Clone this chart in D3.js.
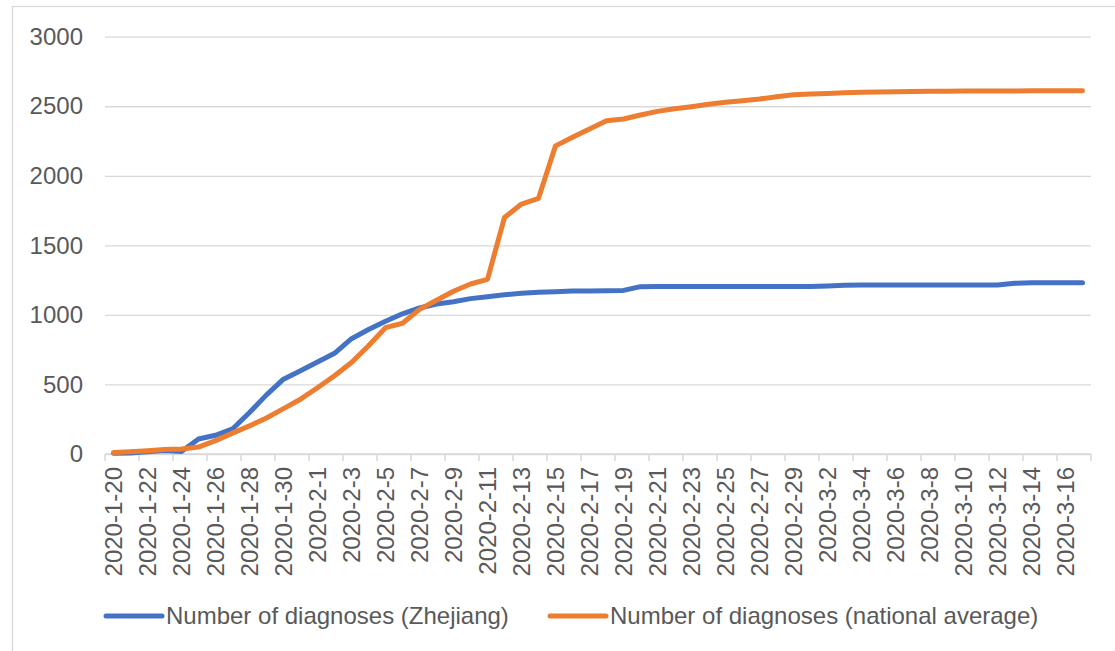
<!DOCTYPE html>
<html>
<head>
<meta charset="utf-8">
<script src="https://cdn.jsdelivr.net/npm/d3@7"></script>
<style>
body{margin:0;background:#fff;}
text{font-family:"Liberation Sans",Arial,sans-serif;fill:#595959;}
</style>
</head>
<body>
<div id="chart"></div>
<script>
(function(){

const dates = [
"2020-1-20","2020-1-21","2020-1-22","2020-1-23","2020-1-24","2020-1-25","2020-1-26","2020-1-27","2020-1-28","2020-1-29","2020-1-30","2020-1-31",
"2020-2-1","2020-2-2","2020-2-3","2020-2-4","2020-2-5","2020-2-6","2020-2-7","2020-2-8","2020-2-9","2020-2-10","2020-2-11","2020-2-12","2020-2-13","2020-2-14",
"2020-2-15","2020-2-16","2020-2-17","2020-2-18","2020-2-19","2020-2-20","2020-2-21","2020-2-22","2020-2-23","2020-2-24","2020-2-25","2020-2-26","2020-2-27",
"2020-2-28","2020-2-29","2020-3-1","2020-3-2","2020-3-3","2020-3-4","2020-3-5","2020-3-6","2020-3-7","2020-3-8","2020-3-9","2020-3-10","2020-3-11",
"2020-3-12","2020-3-13","2020-3-14","2020-3-15","2020-3-16","2020-3-17"
];

const zhejiang = [
5,8,17,25,18,108,135,180,298,425,538,599,
661,724,829,895,954,1008,1050,1078,1095,1117,1131,1145,1155,
1162,1167,1171,1172,1174,1176,1203,1205,1205,1205,1205,1205,1205,
1205,1205,1205,1205,1208,1213,1215,1215,1215,1215,1215,1215,1215,1215,
1215,1227,1231,1231,1232,1232
];

const national = [
10,16,24,32,36,50,96,150,202,259,326,394,
476,562,658,778,908,940,1040,1105,1170,1222,1256,1700,1797,
1838,2215,2277,2336,2396,2408,2437,2463,2482,2497,2514,2528,2540,
2552,2569,2582,2588,2592,2597,2600,2602,2604,2606,2607,2608,2609,2609,
2610,2610,2611,2611,2611,2612
];

const yTicks = [0,500,1000,1500,2000,2500,3000];

const seriesNames = ["Number of diagnoses (Zhejiang)","Number of diagnoses (national average)"];
const seriesColors = ["#4472c4","#ed7d31"];

const width = 1115;
const height = 651;
const left = 105, right = 1091, top = 36.7, bottom = 454;

const svg = d3.select("#chart")
.append("svg")
.attr("width",width)
.attr("height",height);

// chart border (only left/top fall inside the picture)
svg.append("rect")
.attr("x",12.5)
.attr("y",6.5)
.attr("width",1120)
.attr("height",660)
.attr("fill","none")
.attr("stroke","#d9d9d9")
.attr("stroke-width",1.3);

const x = d3.scaleBand()
.domain(dates)
.range([left,right]);

const y = d3.scaleLinear()
.domain([0,3000])
.range([bottom,top]);

// y axis + gridlines
const yAxis = svg.append("g")
.attr("transform",`translate(${left},0)`)
.call(d3.axisLeft(y).tickValues(yTicks).tickFormat(d3.format("d")).tickSize(-(right-left)).tickPadding(22));

yAxis.select(".domain").remove();
yAxis.selectAll("line")
.attr("stroke","#d9d9d9")
.attr("stroke-width",1.3);
yAxis.selectAll("text")
.attr("font-size","24px")
.attr("fill","#595959");

// x axis labels
const shown = dates.filter((d,i)=> i%2===0);

const xAxis = svg.append("g")
.attr("transform",`translate(0,${bottom})`)
.call(d3.axisBottom(x).tickValues(shown).tickSize(0));

xAxis.select(".domain").remove();
xAxis.selectAll("text")
.attr("transform","rotate(-90)")
.attr("x",-13)
.attr("y",0)
.attr("dy","0.35em")
.attr("text-anchor","end")
.attr("font-size","24px")
.attr("fill","#595959");

// axis line and tick marks at category boundaries
svg.append("line")
.attr("x1",left)
.attr("x2",right)
.attr("y1",bottom)
.attr("y2",bottom)
.attr("stroke","#d9d9d9")
.attr("stroke-width",1.5);

const tickPos = shown.map(d=>x(d)).concat([right]);

svg.selectAll("line.xtick")
.data(tickPos)
.enter()
.append("line")
.attr("class","xtick")
.attr("x1",d=>d)
.attr("x2",d=>d)
.attr("y1",bottom)
.attr("y2",bottom+7)
.attr("stroke","#d9d9d9")
.attr("stroke-width",1.5);

// lines
const line = d3.line()
.x((d,i)=> x(dates[i]) + x.bandwidth()/2)
.y(d=> y(d));

[zhejiang,national].forEach((s,k)=>{
svg.append("path")
.datum(s)
.attr("d",line)
.attr("fill","none")
.attr("stroke",seriesColors[k])
.attr("stroke-width",5)
.attr("stroke-linejoin","round")
.attr("stroke-linecap","round");
});

// legend
const legendX = [106,550];

const legend = svg.append("g");

legend.selectAll("line")
.data(seriesNames)
.enter()
.append("line")
.attr("x1",(d,i)=> legendX[i])
.attr("x2",(d,i)=> legendX[i]+56)
.attr("y1",616)
.attr("y2",616)
.attr("stroke",(d,i)=> seriesColors[i])
.attr("stroke-width",5)
.attr("stroke-linecap","round");

legend.selectAll("text")
.data(seriesNames)
.enter()
.append("text")
.attr("x",(d,i)=> legendX[i]+60)
.attr("y",616)
.attr("dy","0.35em")
.attr("font-size","24px")
.text(d=>d);

})();
</script>
</body>
</html>
